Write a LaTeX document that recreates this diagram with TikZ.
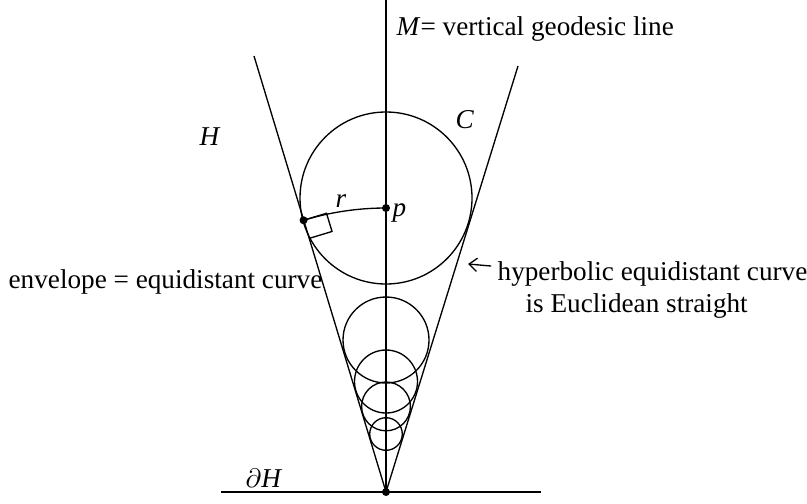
\documentclass[tikz,border=0pt]{standalone}
\usepackage{fontspec}
\setmainfont{Liberation Serif}
\usetikzlibrary{arrows.meta}

\begin{document}
\begin{tikzpicture}[x=0.375pt, y=-0.375pt, line width=0.5pt,
  dot/.style={circle, fill, inner sep=0pt, minimum size=3pt},
  lbl/.style={anchor=base west, inner sep=0pt, font=\fontsize{10.2}{12}\selectfont},
  ptr/.style={-{Straight Barb[length=3pt, width=5pt]}}]
  \useasboundingbox (0,0) rectangle (807,503);

  % Points of the picture (pixel grid, y downwards)
  \coordinate (apex) at (386,492);
  \coordinate (mtop) at (386,0);
  \coordinate (ltop) at (254,56);
  \coordinate (rtop) at (518,66);
  \coordinate (bl)   at (221,492);
  \coordinate (br)   at (541,492);
  \coordinate (p)    at (386,208);
  \coordinate (q)    at ([shift={(253.12:284)}]apex);

  % Boundary, geodesic M and the two equidistant lines
  \draw (bl) -- (br);
  \draw (mtop) -- (apex);
  \draw (ltop) -- (apex) -- (rtop);

  % Circles of equal hyperbolic radius
  \draw (386,198) circle[radius=86];
  \draw (386,340) circle[radius=43];
  \draw (386,381.5) circle[radius=31.5];
  \draw (386,406.4) circle[radius=24.4];
  \draw (386,434) circle[radius=16.3];

  % Perpendicular geodesic from p to the envelope
  \draw (q) arc[start angle=253.12, end angle=270, radius=284];
  \draw (q) -- ++(-16.88:24) -- ++(73.12:19) -- ++(163.12:24);

  \node[dot] (pdot) at (p) {};
  \node[dot] (qdot) at (q) {};
  \node[dot] (adot) at (apex) {};

  % Labels
  \node[lbl] (mlbl)   at (396,35)  {\textit{M}= vertical geodesic line};
  \node[lbl] (hlbl)   at (199,145) {\textit{H}};
  \node[lbl] (clbl)   at (455,128) {\textit{C}};
  \node[lbl] (rlbl)   at (335,207) {\textit{r}};
  \node[lbl] (plbl)   at (392,216) {\textit{p}};
  \node[lbl] (dhlbl)  at (245,487) {$\partial$\textit{H}};
  \node[lbl] (envlbl) at (8,288)   {envelope = equidistant curve};
  \node[lbl] (hyplbl) at (497,280) {hyperbolic equidistant curve};
  \node[lbl] (euclbl) at (525,312) {is Euclidean straight};

  \coordinate (ptip) at (468,264);
  \draw[ptr] ([xshift=-2.2pt,yshift=2.8pt]hyplbl.west) -- (ptip);
\end{tikzpicture}
\end{document}
